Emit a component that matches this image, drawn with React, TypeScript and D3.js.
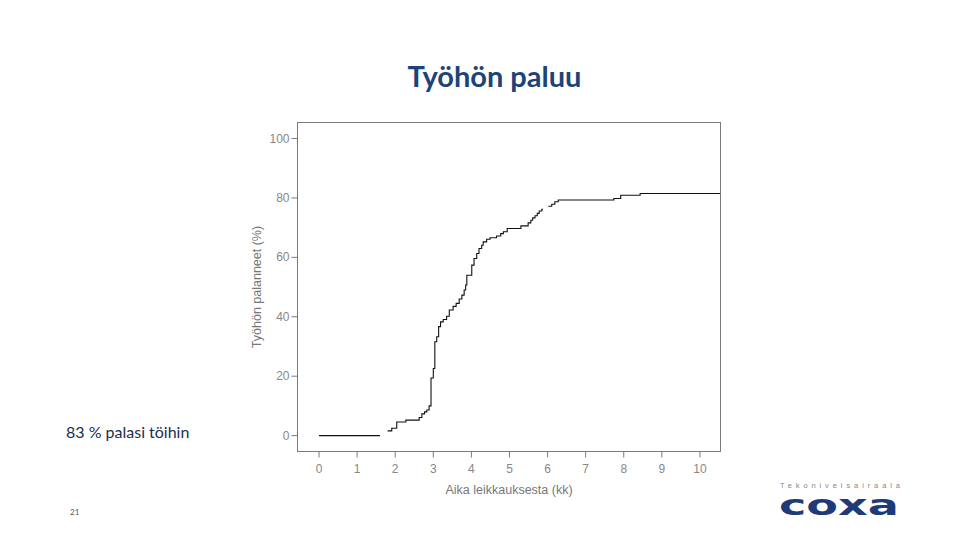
import React from "react";
import * as d3 from "d3";

// Kaplan–Meier style cumulative return-to-work curve (months, %)
// null marks a break in the drawn line
const months: (number | null)[] = [
  0, 1.6, null,
  1.8, 1.91, 2.04, 2.28, 2.63, 2.7, 2.77, 2.83, 2.89, 2.94, 3.0, 3.04, 3.09, 3.14,
  3.19, 3.26, 3.35, 3.42, 3.52, 3.6, 3.68, 3.75, 3.81, 3.85, 3.88, 4.01, 4.07,
  4.14, 4.2, 4.27, 4.31, 4.4, 4.49, 4.66, 4.77, 4.84, 4.94, 5.3, 5.49, 5.56,
  5.61, 5.67, 5.73, 5.78, 5.85, 5.88, null,
  6.02, 6.11, 6.19, 6.28, 7.74, 7.92, 8.43, 10.53,
];
const returned: (number | null)[] = [
  0, 0, null,
  1.6, 2.5, 4.6, 5.2, 6.1, 7.3, 8.0, 8.6, 10.0, 19.4, 22.6, 31.6, 33.3, 36.7,
  38.3, 39.1, 40.2, 42.3, 43.5, 44.5, 46.0, 47.3, 49.0, 50.7, 54.0, 57.4, 59.6,
  61.3, 63.0, 64.1, 65.2, 66.1, 66.6, 67.2, 68.0, 68.6, 69.7, 70.6, 71.6, 72.5,
  73.3, 74.0, 74.8, 75.6, 76.2, 76.2, null,
  77.2, 77.9, 78.7, 79.3, 79.8, 80.9, 81.5, 81.5,
];

const xTicks = [0, 1, 2, 3, 4, 5, 6, 7, 8, 9, 10];
const yTicks = [0, 20, 40, 60, 80, 100];

const title = "Työhön paluu";
const xTitle = "Aika leikkauksesta (kk)";
const yTitle = "Työhön palanneet (%)";
const note = "83 % palasi töihin";
const pageNo = "21";
const logoSub = "Tekonivelsairaala";
const logoMain = "coxa";

export default function App() {
  const left = 297.5, right = 720.5, top = 122.5, bottom = 451.5;
  const x = d3.scaleLinear().domain([-0.565, 10.54]).range([left, right]);
  const y = d3.scaleLinear().domain([-5.35, 105.4]).range([bottom, top]);

  const pts = months.map((m, i) => [m, returned[i]] as [number | null, number | null]);
  const line = d3
    .line<[number | null, number | null]>()
    .defined((d) => d[0] !== null && d[1] !== null)
    .x((d) => x(d[0] as number))
    .y((d) => y(d[1] as number))
    .curve(d3.curveStepAfter);

  const axisFont = "'Liberation Sans', Arial, sans-serif";
  const slideFont = "Lato, 'Open Sans', sans-serif";

  return (
    <svg
      width={960}
      height={540}
      style={{ position: "fixed", left: 0, top: 0, background: "#fff" }}
    >
      <rect x={0} y={0} width={960} height={540} fill="#fff" />
      <text
        x={494.5}
        y={87}
        textAnchor="middle"
        fontFamily={slideFont}
        fontWeight={700}
        fontSize={29}
        fill="#1c4478"
      >
        {title}
      </text>

      {/* plot frame */}
      <rect
        x={left}
        y={top}
        width={right - left}
        height={bottom - top}
        fill="none"
        stroke="#7a7a7a"
        strokeWidth={1}
      />

      {/* y axis */}
      {yTicks.map((t) => (
        <g key={"y" + t}>
          <line x1={left - 6} x2={left} y1={y(t)} y2={y(t)} stroke="#7a7a7a" />
          <text
            x={left - 8}
            y={y(t) + 4}
            textAnchor="end"
            fontFamily={axisFont}
            fontSize={12}
            fill="#888"
          >
            {t}
          </text>
        </g>
      ))}
      {/* x axis */}
      {xTicks.map((t) => (
        <g key={"x" + t}>
          <line x1={x(t)} x2={x(t)} y1={bottom} y2={bottom + 6} stroke="#7a7a7a" />
          <text
            x={x(t)}
            y={bottom + 21}
            textAnchor="middle"
            fontFamily={axisFont}
            fontSize={12}
            fill="#888"
          >
            {t}
          </text>
        </g>
      ))}
      <text
        x={509}
        y={494}
        textAnchor="middle"
        fontFamily={axisFont}
        fontSize={12.5}
        fill="#777"
      >
        {xTitle}
      </text>
      <text
        transform={`translate(261,287) rotate(-90)`}
        textAnchor="middle"
        fontFamily={axisFont}
        fontSize={12.5}
        fill="#777"
      >
        {yTitle}
      </text>

      {/* curve */}
      <path d={line(pts) || ""} fill="none" stroke="#111" strokeWidth={1.1} />

      {/* slide texts */}
      <text x={66} y={438} fontFamily={slideFont} fontSize={16} fill="#1e2d4d">
        {note}
      </text>
      <text x={70} y={515} fontFamily={slideFont} fontSize={8} fill="#555">
        {pageNo}
      </text>

      {/* logo */}
      <text
        x={780}
        y={488}
        fontFamily={axisFont}
        fontSize={7.5}
        fill="#888"
        textLength={120}
        lengthAdjust="spacing"
      >
        {logoSub}
      </text>
      <text
        x={779}
        y={515}
        fontFamily="'DejaVu Sans', sans-serif"
        fontWeight={700}
        fontSize={28}
        fill="#1f3a78"
        textLength={120}
        lengthAdjust="spacingAndGlyphs"
      >
        {logoMain}
      </text>
    </svg>
  );
}
